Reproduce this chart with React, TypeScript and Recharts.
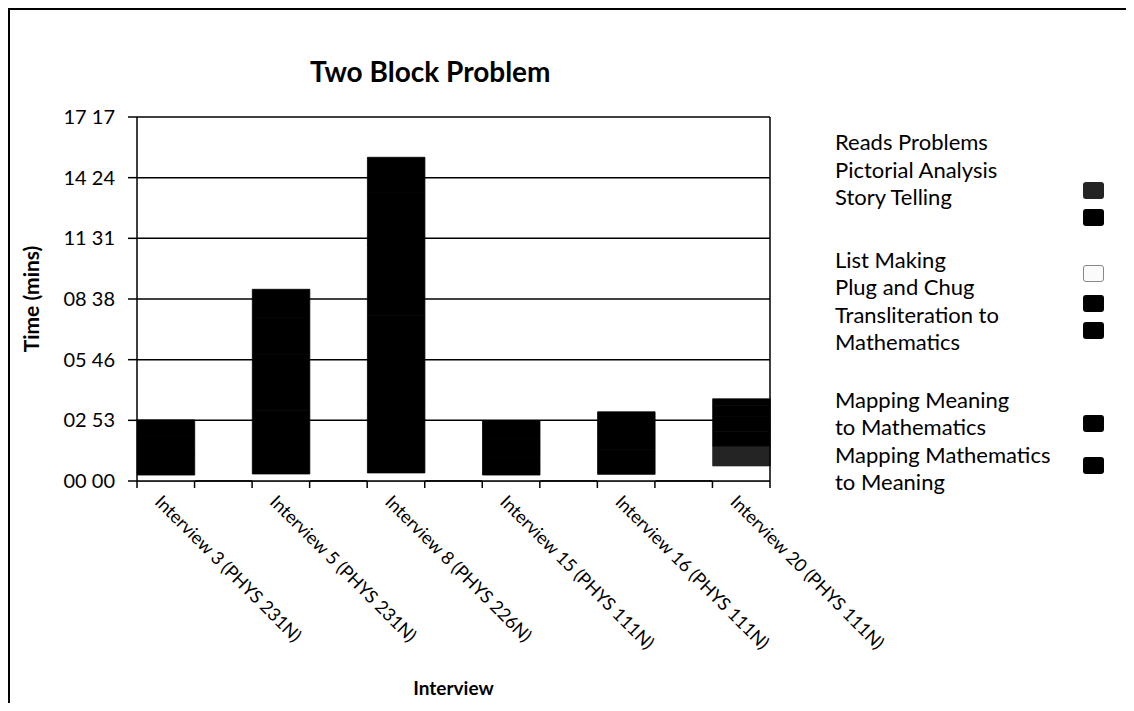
import React from 'react';
import { BarChart, Bar, XAxis, YAxis, CartesianGrid, Legend, ReferenceLine } from 'recharts';

// Interviews shown along the category axis
const CATEGORIES = [
  'Interview 3 (PHYS 231N)',
  'Interview 5 (PHYS 231N)',
  'Interview 8 (PHYS 226N)',
  'Interview 15 (PHYS 111N)',
  'Interview 16 (PHYS 111N)',
  'Interview 20 (PHYS 111N)',
];

// Seconds spent on each activity, one value per interview
const READS_PROBLEMS = [17, 20, 23, 17, 19, 43];
const PICTORIAL_ANALYSIS = [0, 0, 0, 0, 0, 57];
const STORY_TELLING = [0, 0, 199, 0, 0, 0];
const LIST_MAKING = [0, 0, 0, 0, 0, 0];
const PLUG_AND_CHUG = [60, 180, 250, 50, 70, 40];
const TRANSLITERATION = [50, 160, 200, 54, 48, 44];
const MAPPING_MEANING_TO_MATH = [27, 106, 150, 30, 35, 30];
const MAPPING_MATH_TO_MEANING = [20, 80, 100, 20, 25, 20];

// Time axis: 0.002-day steps up to 0.012 days, expressed in seconds
const Y_MAX = 1036.8;
const Y_TICKS = [0, 172.8, 345.6, 518.4, 691.2, 864, 1036.8];

// Category positions: bars sit on whole numbers, tick marks on bar edges
const X_MIN = -0.25;
const X_MAX = 5.25;
const X_TICKS = [
  -0.25, 0, 0.25, 0.75, 1, 1.25, 1.75, 2, 2.25, 2.75, 3, 3.25,
  3.75, 4, 4.25, 4.75, 5, 5.25,
];

const SERIES = [
  { key: 'reads', name: 'Reads Problems', values: READS_PROBLEMS, fill: '#ffffff' },
  { key: 'pictorial', name: 'Pictorial Analysis', values: PICTORIAL_ANALYSIS, fill: '#242424' },
  { key: 'story', name: 'Story Telling', values: STORY_TELLING, fill: '#000000' },
  { key: 'list', name: 'List Making', values: LIST_MAKING, fill: '#fbfbfb' },
  { key: 'plug', name: 'Plug and Chug', values: PLUG_AND_CHUG, fill: '#000000' },
  { key: 'translit', name: 'Transliteration to Mathematics', values: TRANSLITERATION, fill: '#000000' },
  { key: 'meaningToMath', name: 'Mapping Meaning to Mathematics', values: MAPPING_MEANING_TO_MATH, fill: '#000000' },
  { key: 'mathToMeaning', name: 'Mapping Mathematics to Meaning', values: MAPPING_MATH_TO_MEANING, fill: '#000000' },
];

// Legend layout: wrapped lines, extra space before a group, swatch centre
const LEGEND_LAYOUT: Record<string, { lines: string[]; gap: number; swatchY: number; border?: boolean }> = {
  reads: { lines: ['Reads Problems'], gap: 0, swatchY: 35 },
  pictorial: { lines: ['Pictorial Analysis'], gap: 0, swatchY: 62 },
  story: { lines: ['Story Telling'], gap: 0, swatchY: 89 },
  list: { lines: ['List Making'], gap: 35, swatchY: 145, border: true },
  plug: { lines: ['Plug and Chug'], gap: 0, swatchY: 175 },
  translit: { lines: ['Transliteration to', 'Mathematics'], gap: 0, swatchY: 202 },
  meaningToMath: { lines: ['Mapping Meaning', 'to Mathematics'], gap: 30, swatchY: 295 },
  mathToMeaning: { lines: ['Mapping Mathematics', 'to Meaning'], gap: 0, swatchY: 337 },
};

const data = CATEGORIES.map((label, i) => {
  const row: Record<string, number | string> = { x: i, label };
  SERIES.forEach((s) => {
    row[s.key] = s.values[i];
  });
  return row;
});

const FONT = 'Lato, "Open Sans", sans-serif';
const LINE_H = 27.5;

const pad = (n: number) => String(n).padStart(2, '0');
const formatTime = (sec: number) => {
  const s = Math.round(sec);
  return `${pad(Math.floor(s / 60))} ${pad(s % 60)}`;
};

function CategoryTick(props: any) {
  const { x, y, payload } = props;
  const v = payload.value as number;
  const idx = Math.round(v);
  if (Math.abs(v - idx) > 1e-6) {
    return <line x1={x} x2={x} y1={y} y2={y + 7} stroke="#000" strokeWidth={1.5} />;
  }
  return (
    <g transform={`translate(${x - 12}, ${y + 22}) rotate(45)`}>
      <text x={0} y={0} textAnchor="start" fontFamily={FONT} fontSize={18} fill="#000">
        {CATEGORIES[idx]}
      </text>
    </g>
  );
}

function LegendContent(props: any) {
  const payload: any[] = props.payload || [];
  const byKey: Record<string, any> = {};
  payload.forEach((p) => {
    byKey[p.dataKey] = p;
  });
  return (
    <div style={{ position: 'relative', fontFamily: FONT, fontSize: 22, color: '#000' }}>
      {SERIES.map((s) => {
        const layout = LEGEND_LAYOUT[s.key];
        const entry = byKey[s.key];
        return (
          <div key={s.key} style={{ marginTop: layout.gap }}>
            {layout.lines.map((line) => (
              <div key={line} style={{ height: LINE_H, lineHeight: `${LINE_H}px`, whiteSpace: 'nowrap' }}>
                {line}
              </div>
            ))}
            <div
              style={{
                position: 'absolute',
                left: 248,
                top: layout.swatchY - 8.5,
                width: 21,
                height: 17,
                borderRadius: 3,
                background: entry ? entry.color : s.fill,
                border: layout.border ? '1px solid #888' : 'none',
                boxSizing: 'border-box',
              }}
            />
          </div>
        );
      })}
    </div>
  );
}

export default function App() {
  return (
    <div
      style={{
        position: 'relative',
        width: 1118,
        height: 695,
        background: '#fff',
        borderTop: '2px solid #000',
        borderLeft: '2px solid #000',
        boxSizing: 'border-box',
        fontFamily: FONT,
      }}
    >
      <div
        style={{
          position: 'absolute',
          left: 300,
          top: 44,
          whiteSpace: 'nowrap',
          fontSize: 28,
          fontWeight: 700,
          color: '#000',
          fontFamily: FONT,
        }}
      >
        Two Block Problem
      </div>
      <div style={{ position: 'absolute', left: -2, top: -2 }}>
        <BarChart
          width={1118}
          height={695}
          data={data}
          margin={{ top: 109, right: 356, bottom: 0, left: 0 }}
        >
          <CartesianGrid vertical={false} stroke="#000" strokeWidth={1.5} />
          <XAxis
            dataKey="x"
            type="number"
            domain={[X_MIN, X_MAX]}
            ticks={X_TICKS}
            interval={0}
            height={222}
            tickSize={0}
            tickMargin={0}
            tickLine={false}
            axisLine={{ stroke: '#000', strokeWidth: 1.5 }}
            tick={<CategoryTick />}
            label={{
              value: 'Interview',
              position: 'insideBottom',
              offset: 8,
              style: { fontFamily: FONT, fontSize: 19, fontWeight: 700, fill: '#000' },
            }}
          />
          <YAxis
            type="number"
            domain={[0, Y_MAX]}
            ticks={Y_TICKS}
            interval={0}
            width={129}
            tickFormatter={formatTime}
            tickSize={9}
            tickMargin={13}
            tickLine={{ stroke: '#000', strokeWidth: 1.5 }}
            axisLine={{ stroke: '#000', strokeWidth: 1.5 }}
            tick={{ fontFamily: FONT, fontSize: 20, fill: '#000' }}
            label={{
              value: 'Time (mins)',
              angle: -90,
              position: 'insideLeft',
              offset: 24,
              style: { fontFamily: FONT, fontSize: 21, fontWeight: 700, fill: '#000', textAnchor: 'middle' },
            }}
          />
          <ReferenceLine x={X_MAX} stroke="#000" strokeWidth={1.5} />
          {SERIES.map((s) => (
            <Bar
              key={s.key}
              dataKey={s.key}
              name={s.name}
              stackId="time"
              fill={s.fill}
              stroke={s.fill}
              strokeWidth={0.8}
              barSize={57.5}
              isAnimationActive={false}
            />
          ))}
          <Legend
            layout="vertical"
            align="center"
            verticalAlign="middle"
            content={<LegendContent />}
            wrapperStyle={{ position: 'absolute', left: 827, top: 120, width: 290, height: 380 }}
          />
        </BarChart>
      </div>
    </div>
  );
}
